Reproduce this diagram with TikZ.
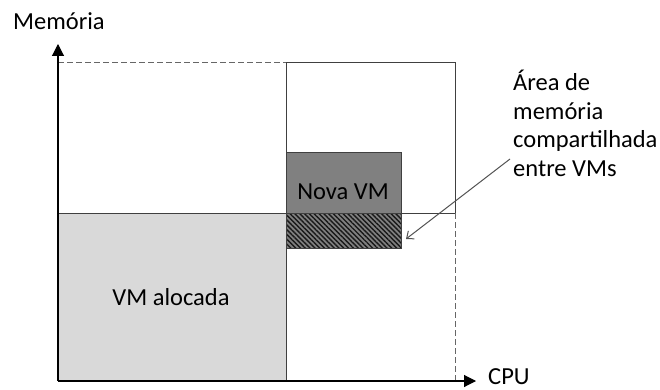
\documentclass[tikz,border=0pt]{standalone}
\usepackage{fontspec}
\setmainfont{Carlito}
\usetikzlibrary{arrows.meta,patterns.meta}
\definecolor{lightvm}{HTML}{D9D9D9}
\definecolor{newvm}{HTML}{808080}
\definecolor{edge}{HTML}{404040}
\tikzset{
  axis/.style={line width=1.1pt,-{Triangle[length=12pt,width=12pt]}},
  region/.style={draw=edge,line width=0.9pt,inner sep=0pt,outer sep=0pt},
  guide/.style={draw=edge!80,line width=0.9pt,dash pattern=on 6pt off 3pt},
  lbl/.style={font=\fontsize{24.5}{28.5}\selectfont,inner sep=0pt,text=black},
  pointer/.style={draw=edge!90,line width=1pt,-{Straight Barb[length=6pt,width=10pt]}}
}
\begin{document}
\begin{tikzpicture}[x=1pt,y=-1pt]
\useasboundingbox (0,0) rectangle (660,390);
% allocated VM block
\path[fill=lightvm,draw=edge,line width=0.9pt] (58,213) rectangle (286,381);
% upper-right capacity box
\draw[region] (286,62.5) rectangle (455,213);
% left outline and top guide
\draw[region] (58,213) -- (286,213) -- (286,381);
\draw[guide] (58,62.5) -- (286,62.5);
\draw[guide] (455,213) -- (455,381);
% new VM and its shared memory area
\path[fill=newvm,draw=edge,line width=0.9pt] (286,152) rectangle (401,213);
\path[fill=newvm,draw=edge,line width=0.9pt] (286,213) rectangle (401,248);
\path[pattern={Lines[angle=-45,distance=3.4pt,line width=1.4pt]},pattern color=black!90] (286,213) rectangle (401,248);
\draw[edge,line width=0.9pt] (286,213) rectangle (401,248);
% axes
\coordinate (O) at (58,381);
\coordinate (ytip) at (58,44);
\coordinate (xtip) at (476,381);
\draw[axis] (O) -- (ytip);
\draw[axis] (O) -- (xtip);
% labels
\node[lbl,anchor=base west] (mem) at (13,30) {Memória};
\node[lbl,anchor=base west] (cpu) at (488,384) {CPU};
\node[lbl,anchor=base] (alloc) at (171,305) {VM alocada};
\node[lbl,anchor=base] (nova) at (343,199) {Nova VM};
\node[lbl,anchor=base west,align=left] (shared) at (513,176.5)
  {Área de\\memória\\compartilhada\\entre VMs};
\coordinate (pstart) at (510,159);
\coordinate (pend) at (406,239);
\draw[pointer] (pstart) -- (pend);
\end{tikzpicture}
\end{document}
